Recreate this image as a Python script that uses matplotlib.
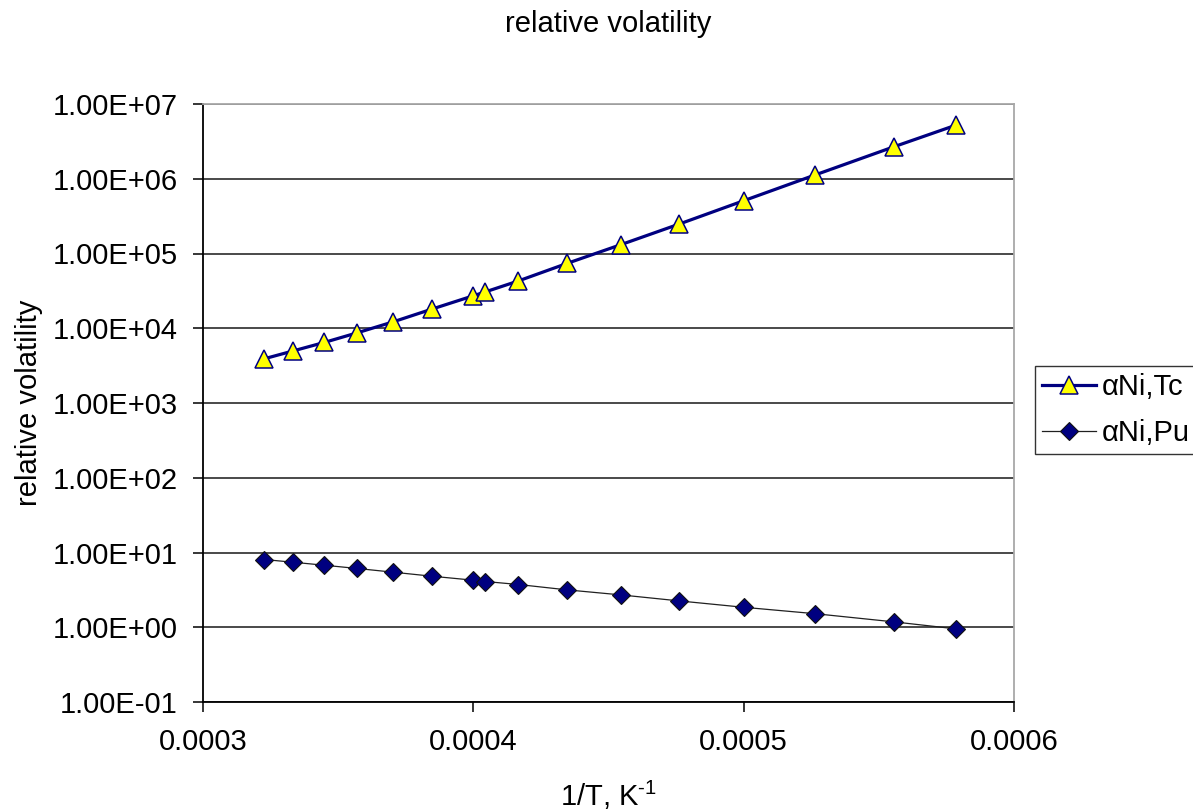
import matplotlib
matplotlib.use("Agg")
import matplotlib.pyplot as plt
from matplotlib.ticker import FixedLocator, FuncFormatter, NullLocator

plt.rcParams['font.family'] = ['Liberation Sans', 'DejaVu Sans']
plt.rcParams['mathtext.fontset'] = 'custom'
plt.rcParams['mathtext.rm'] = 'Liberation Sans'
plt.rcParams['mathtext.default'] = 'rm'

# data
inv_T = [0.0003226, 0.0003333, 0.0003448, 0.0003571, 0.0003704, 0.0003846,
         0.0004000, 0.0004045, 0.0004167, 0.0004348, 0.0004545, 0.0004762,
         0.0005000, 0.0005263, 0.0005556, 0.0005787]
alpha_ni_tc = [3.9e3, 4.97e3, 6.45e3, 8.7e3, 1.22e4, 1.8e4, 2.72e4, 3.07e4,
               4.3e4, 7.4e4, 1.31e5, 2.48e5, 5.08e5, 1.12e6, 2.68e6, 5.24e6]
alpha_ni_pu = [8.06, 7.41, 6.76, 6.11, 5.45, 4.82, 4.26, 4.09,
               3.73, 3.16, 2.71, 2.25, 1.85, 1.52, 1.18, 0.95]

x_ticks = [0.0003, 0.0004, 0.0005, 0.0006]
y_ticks = [1e-1, 1e0, 1e1, 1e2, 1e3, 1e4, 1e5, 1e6, 1e7]

W, H = 1193, 811
fig = plt.figure(figsize=(W / 100, H / 100), dpi=100)
ax = fig.add_axes([203 / W, 1 - 702 / H, (1014 - 203) / W, (702 - 104) / H])

ax.plot(inv_T, alpha_ni_tc, color='#000080', lw=2.3, marker='^', ms=13,
        mfc='#ffff00', mec='#000080', mew=1.1, label='αNi,Tc', zorder=3)
ax.plot(inv_T, alpha_ni_pu, color='#202020', lw=0.9, marker='D', ms=9.5,
        mfc='#000080', mec='#111111', mew=0.8, label='αNi,Pu', zorder=3)

ax.set_yscale('log')
ax.set_xlim(0.0003, 0.0006)
ax.set_ylim(1e-1, 1e7)
ax.xaxis.set_major_locator(FixedLocator(x_ticks))
ax.xaxis.set_major_formatter(FuncFormatter(lambda v, p: f"{v:.4f}"))
ax.yaxis.set_major_locator(FixedLocator(y_ticks))
ax.yaxis.set_minor_locator(NullLocator())
ax.yaxis.set_major_formatter(FuncFormatter(lambda v, p: f"{v:.2E}"))

ax.grid(axis='y', color='#3a3a3a', lw=1.3)
ax.set_axisbelow(True)
for side in ['left', 'bottom']:
    ax.spines[side].set_color('black')
    ax.spines[side].set_linewidth(1.3)
for side in ['top', 'right']:
    ax.spines[side].set_color('#a8a8a8')
    ax.spines[side].set_linewidth(1.3)

ax.tick_params(axis='y', direction='out', length=7, width=1.1, pad=11, labelsize=21)
ax.tick_params(axis='x', direction='out', length=7, width=1.1, pad=12, labelsize=21)

ax.set_xlabel('1/T, K$^{\u2010 1}$', fontsize=21, labelpad=16)
ax.set_ylabel('relative volatility', fontsize=21, labelpad=7)
fig.text((203 + 1014) / 2 / W, 1 - 24 / H, 'relative volatility',
         fontsize=21, ha='center', va='center')

leg = ax.legend(loc='center left', bbox_to_anchor=(1035 / W, 1 - 410 / H),
                bbox_transform=fig.transFigure, fontsize=21, frameon=True,
                fancybox=False, edgecolor='black', borderpad=0.25,
                handlelength=1.85, handletextpad=0.2, labelspacing=0.6,
                borderaxespad=0)
leg.get_frame().set_linewidth(1.0)

fig.savefig('out.png', dpi=100)
